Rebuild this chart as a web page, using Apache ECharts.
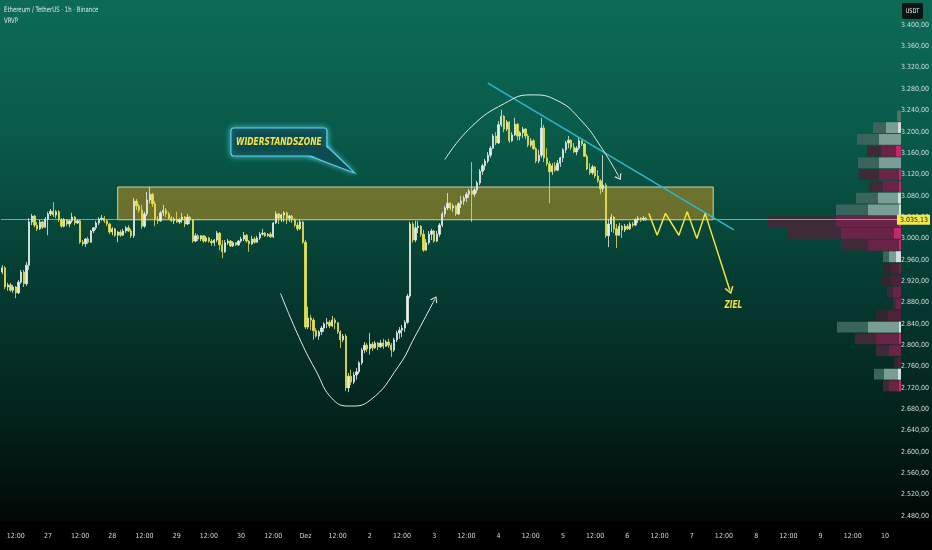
<!DOCTYPE html>
<html><head><meta charset="utf-8">
<script src="https://cdn.jsdelivr.net/npm/echarts@6/dist/echarts.min.js"></script>
<style>html,body{margin:0;padding:0;background:#000;}#c{width:932px;height:550px;}</style>
</head><body><div id="c"></div>
<script>
// ---- axis setup (hours relative to 26 Nov 12:00) ----
const firstHour = -5;
const hourCount = 334;
const monthNames = ['Jan','Feb','Mär','Apr','Mai','Jun','Jul','Aug','Sep','Okt','Nov','Dez'];
const yTicks = [2480,2520,2560,2600,2640,2680,2720,2760,2800,2840,2880,2920,2960,3000,3040,3080,3120,3160,3200,3240,3280,3320,3360,3400];
const yMin = 2468.7, yMax = 3446.8;

// ---- ETH/USDT 1h candles (from 26 Nov 07:00) ----
const opens = [
2937,2945,2909,2913,2903,2909,2898,2918,2937,2915,
2950,3031,3042,3025,3018,3031,3021,3036,3046,3051,
3044,3050,3035,3023,3035,3027,3033,3040,3029,3033,
2993,2990,2999,2993,3014,3020,3029,3036,3038,3033,
3027,3012,3018,3006,3012,3006,3014,3020,3014,3005,
3070,3061,3053,3023,3046,3072,3083,3065,3036,3033,
3048,3053,3046,3038,3033,3036,3031,3035,3040,3027,
3040,3035,2995,3005,2999,3005,2995,3001,2995,2992,
2997,3010,2988,2975,2992,2995,2986,2992,2988,2995,
2999,3006,2995,2990,2999,2993,3001,3008,3010,3005,
3008,3003,3029,3046,3038,3044,3048,3038,3042,3035,
3025,3018,3031,2993,2834,2851,2847,2827,2817,2825,
2832,2840,2843,2836,2847,2842,2825,2810,2817,2720,
2742,2731,2744,2750,2767,2791,2800,2793,2802,2795,
2804,2797,2804,2798,2806,2800,2791,2810,2823,2828,
2832,2843,2892,3027,2997,3020,3023,3008,2978,2992,
3008,3014,2995,3008,3025,3046,3057,3066,3057,3061,
3046,3065,3070,3076,3083,3089,3083,3091,3104,3126,
3136,3145,3156,3169,3192,3179,3213,3229,3205,3218,
3183,3194,3214,3192,3198,3205,3192,3175,3183,3168,
3145,3156,3207,3151,3140,3125,3136,3128,3141,3151,
3166,3179,3184,3171,3162,3169,3183,3177,3154,3130,
3123,3134,3117,3108,3093,3100,3005,3027,3040,3018,
3006,3023,3016,3023,3018,3027,3025,3035,3038,3035,
3038];
const closes = [
2945,2909,2913,2903,2909,2898,2918,2937,2915,2950,
3031,3042,3025,3018,3031,3021,3036,3046,3051,3044,
3050,3035,3023,3035,3027,3033,3040,3029,3033,2993,
2990,2999,2993,3014,3020,3029,3036,3038,3033,3027,
3012,3018,3006,3012,3006,3014,3020,3014,3005,3070,
3061,3053,3023,3046,3072,3083,3065,3036,3033,3048,
3053,3046,3038,3033,3036,3031,3035,3040,3027,3040,
3035,2995,3005,2999,3005,2995,3001,2995,2992,2997,
3010,2988,2975,2992,2995,2986,2992,2988,2995,2999,
3006,2995,2990,2999,2993,3001,3008,3010,3005,3008,
3003,3029,3046,3038,3044,3048,3038,3042,3035,3025,
3018,3031,2993,2834,2851,2847,2827,2817,2825,2832,
2840,2843,2836,2847,2842,2825,2810,2817,2720,2742,
2731,2744,2750,2767,2791,2800,2793,2802,2795,2804,
2797,2804,2798,2806,2800,2791,2810,2823,2828,2832,
2843,2892,3027,2997,3020,3023,3008,2978,2992,3008,
3014,2995,3008,3025,3046,3057,3066,3057,3061,3046,
3065,3070,3076,3083,3089,3083,3091,3104,3126,3136,
3145,3156,3169,3192,3179,3213,3229,3205,3218,3183,
3194,3214,3192,3198,3205,3192,3175,3183,3168,3145,
3156,3207,3151,3140,3125,3136,3128,3141,3151,3166,
3179,3184,3171,3162,3169,3183,3177,3154,3130,3123,
3134,3117,3108,3093,3100,3005,3027,3040,3018,3006,
3023,3016,3023,3018,3027,3025,3035,3038,3035,3038,
3035.13];
const lows = [
2933,2905,2902,2900,2898,2888,2896,2915,2909,2911,
2941,3025,3021,3014,3016,3018,3020,3006,3042,3040,
3038,3031,3020,3021,3023,3021,3029,3025,3027,2990,
2986,2984,2990,2992,3010,3016,3025,3033,3029,3023,
3008,3006,3003,2993,3003,3005,3010,3012,3001,3001,
3053,3048,3018,3020,3042,3066,3059,3023,3027,3031,
3042,3040,3035,3031,3027,3029,3027,3029,3021,3025,
3027,2992,2993,2995,2995,2992,2993,2992,2986,2986,
2993,2978,2963,2973,2988,2984,2984,2986,2986,2992,
2995,2992,2975,2988,2990,2992,2997,3005,3003,3003,
3001,3001,3027,3027,3031,3031,3027,3031,3029,3021,
3014,3016,2990,2830,2830,2828,2810,2814,2810,2819,
2825,2832,2832,2834,2830,2821,2795,2806,2714,2712,
2725,2727,2735,2746,2763,2785,2787,2782,2789,2793,
2791,2795,2793,2797,2795,2778,2787,2806,2812,2815,
2825,2840,2888,2992,2993,3010,3003,2975,2978,2988,
2997,2992,2993,3003,3021,3040,3053,3053,3050,3042,
3044,3057,3063,3068,3076,3031,3078,3085,3100,3119,
3128,3141,3151,3168,3175,3177,3209,3199,3201,3179,
3181,3192,3184,3184,3188,3186,3171,3171,3166,3141,
3141,3151,3143,3136,3066,3119,3125,3126,3134,3143,
3160,3169,3166,3160,3156,3166,3173,3153,3128,3119,
3119,3113,3104,3083,3087,3001,2984,3012,3010,2982,
3005,3001,3012,3016,3016,3021,3023,3029,3031,3033,
3033];
const highs = [
2950,2948,2917,2917,2913,2911,2922,2941,2941,2956,
3038,3046,3044,3031,3035,3033,3040,3050,3055,3068,
3053,3053,3038,3038,3036,3035,3048,3042,3036,3035,
2997,3001,3003,3016,3021,3033,3040,3044,3042,3036,
3029,3021,3020,3014,3016,3018,3023,3025,3018,3076,
3074,3065,3063,3050,3087,3096,3085,3070,3042,3051,
3063,3057,3050,3042,3040,3050,3038,3048,3042,3046,
3042,3036,3010,3008,3006,3006,3005,3003,2999,2999,
3014,3012,2997,2997,2999,2997,2995,2993,2997,3003,
3012,3008,2997,3005,3003,3005,3012,3018,3012,3010,
3012,3031,3051,3048,3046,3051,3050,3044,3044,3038,
3031,3035,3033,2997,2872,2857,2851,2832,2828,2836,
2843,2851,2847,2855,2851,2843,2828,2821,2821,2748,
2754,2750,2757,2770,2795,2806,2804,2823,2806,2808,
2806,2810,2812,2810,2812,2804,2814,2827,2834,2838,
2847,2896,3031,3031,3033,3033,3025,3016,2999,3014,
3018,3016,3014,3029,3050,3061,3085,3068,3065,3063,
3068,3080,3080,3087,3093,3143,3095,3108,3130,3140,
3149,3162,3173,3196,3199,3220,3241,3231,3222,3220,
3199,3226,3216,3201,3209,3207,3196,3188,3186,3171,
3166,3226,3213,3169,3145,3141,3143,3147,3153,3169,
3183,3192,3186,3179,3173,3190,3184,3179,3158,3141,
3138,3136,3128,3111,3156,3104,3036,3046,3042,3027,
3029,3025,3027,3027,3031,3031,3038,3042,3040,3042,
3040];
const lastPrice = 3035.13;

// ---- resistance zone (hours, price) ----
const zoneHours = [38, 260];
const zonePrices = [3035, 3096.4];

// ---- drawn annotations: [hour, price] ----
const cupCurve = [[98.7,2897],[105.5,2816],[111.7,2754],[118.5,2697],[124.8,2686],[132.1,2697],[142.6,2760],[148.8,2816],[156.2,2886]];
const domeCurve = [[160,3148],[169.8,3209],[182.2,3253],[192.1,3269],[202,3258],[210.6,3222],[218.1,3172],[224.9,3115]];
const trendLine = [[176,3291],[267.7,3016]];
const zigzag = [[236,3047],[239.1,3006],[242.2,3047],[247.2,3006],[250.3,3050],[253.9,3000],[257,3047],[266.2,2903]];
const calloutCenter = [98.1, 3180.7];
const calloutTip = [126.3, 3122.6];
const calloutText = 'WIDERSTANDSZONE';
const targetText = 'ZIEL';
const targetAt = [267.5, 2875];

// ---- visible range volume profile ----
const profileRow = 22;
const profileBottoms = [3218.7,3196.7,3174.7,3152.7,3130.7,3108.7,3086.7,3064.7,3042.7,3020.7,2998.7,2976.7,2954.7,2932.7,2910.7,2888.7,2866.7,2844.7,2822.7,2800.7,2778.7,2756.7,2734.7,2712.7];
const profileTotal = [4,28,44,34,43,42,32,45,65,133,114,60,18,17,20,14,8,25,64,46,25,7,27,18];
const profileInner = [4,15,22,20,22,22,18,23,33,65,60,33,12,10,10,8,5,13,33,25,12,3,17,12];
const profileEdge  = [0,3,0,5,0,2,2,3,2,2,7,2,5,2,0,0,0,0,2,2,0,0,3,2];
const profileSide  = ['up','up','up','down','up','down','down','up','up','down','down','down','up','down','down','down','down','down','up','down','down','down','up','down'];
const profileValueArea = [0,1,1,1,1,1,1,1,1,1,1,1,1,0,0,1,1,0,1,1,1,0,1,1];

const FONT = '"DejaVu Sans Condensed","Liberation Sans Narrow",sans-serif';

const categories = [];
for (let i = 0; i < hourCount; i++) {
  const d = new Date(Date.UTC(2025, 10, 26, 12) + (firstHour + i) * 3600000);
  categories.push(d.getUTCFullYear() + '-' + (d.getUTCMonth() + 1) + '-' + d.getUTCDate() + ' ' + d.getUTCHours());
}
function parseCat(v) {
  const [ymd, hh] = v.split(' ');
  const p = ymd.split('-');
  return {month: +p[1] - 1, day: +p[2], hour: +hh};
}
function de(v) {
  const s = Math.round(v).toString();
  return s.replace(/\B(?=(\d{3})+(?!\d))/g, '.') + ',00';
}
const candleData = opens.map((o, i) => [o, closes[i], lows[i], highs[i]]);

const UP = '#e6eeea', DOWN = '#e8e24b';
const colors = {
  up:   {outer: ['#2d544c', '#3a655d'], inner: ['#4a736a', '#7a9d94'], edge: ['#86a8a0', '#d0dfda']},
  down: {outer: ['#33272f', '#3f2b38'], inner: ['#4b2237', '#6a2446'], edge: ['#6a2444', '#c5286a']}
};

const chart = echarts.init(document.getElementById('c'), null, {width: 932, height: 550});
const option = {
  animation: false,
  backgroundColor: {type: 'linear', x: 0, y: 0, x2: 0, y2: 1, colorStops: [
    {offset: 0, color: '#0c6b56'}, {offset: 0.25, color: '#095a48'}, {offset: 0.5, color: '#063d33'},
    {offset: 0.75, color: '#03231d'}, {offset: 0.946, color: '#010806'}, {offset: 0.95, color: '#000'}, {offset: 1, color: '#000'}]},
  grid: [
    {left: 1, right: 31, top: 0, bottom: 28},
    {left: 761, right: 31, top: 0, bottom: 28}
  ],
  xAxis: [
    {type: 'category', gridIndex: 0, data: categories, boundaryGap: true,
     axisLine: {show: false}, axisTick: {show: false}, splitLine: {show: false},
     axisLabel: {color: '#d6d6d6', fontSize: 7, fontFamily: FONT, margin: 11,
       interval: (idx, v) => parseCat(v).hour % 12 === 0,
       formatter: v => { const c = parseCat(v); if (c.hour === 12) return '12:00'; return c.day === 1 ? monthNames[c.month] : String(c.day); }}},
    {type: 'value', gridIndex: 0, min: firstHour - 0.5, max: firstHour + hourCount - 0.5, show: false},
    {type: 'value', gridIndex: 1, min: 0, max: 140, inverse: true, show: false}
  ],
  yAxis: [
    {type: 'value', gridIndex: 0, position: 'right', min: yMin, max: yMax, scale: true,
     axisLine: {show: false}, axisTick: {show: false}, splitLine: {show: false},
     axisLabel: {customValues: yTicks, formatter: v => de(v), color: '#d6dedb', fontSize: 7, fontFamily: FONT, margin: 4}},
    {type: 'value', gridIndex: 1, min: yMin, max: yMax, show: false}
  ],
  series: [
    {type: 'candlestick', xAxisIndex: 0, yAxisIndex: 0, data: candleData, barWidth: 1.8, z: 3,
     itemStyle: {color: UP, color0: DOWN, borderColor: UP, borderColor0: DOWN, borderWidth: 0.8},
     emphasis: {disabled: true}},
    {type: 'line', xAxisIndex: 1, yAxisIndex: 0, data: trendLine, symbol: 'none', z: 6,
     lineStyle: {color: '#2bb6d4', width: 1.6},
     markArea: {silent: true, z: 2, itemStyle: {color: 'rgba(210,150,30,0.5)', borderColor: 'rgba(235,232,175,0.85)', borderWidth: 1},
       data: [[{xAxis: zoneHours[0], yAxis: zonePrices[1]}, {xAxis: zoneHours[1], yAxis: zonePrices[0]}]]},
     markLine: {silent: true, symbol: 'none', z: 2,
       lineStyle: {color: 'rgba(195,182,70,0.8)', width: 1, type: 'solid'},
       label: {show: true, position: 'end', distance: 0, formatter: '3.035,13', color: '#111', backgroundColor: '#f3e94c',
         fontSize: 7, fontFamily: FONT, padding: [2, 2, 1, 3]},
       data: [{yAxis: lastPrice}]}},
    {type: 'line', xAxisIndex: 1, yAxisIndex: 0, smooth: 0.5, symbol: 'none', z: 6,
     lineStyle: {color: '#e4ebe8', width: 1},
     data: cupCurve.map((p, i) => i === cupCurve.length - 1 ? {value: p, symbol: 'path://M0,8 L5,0 L10,8', symbolSize: [7, 5], symbolRotate: -28, itemStyle: {color: 'rgba(0,0,0,0)', borderColor: '#e4ebe8', borderWidth: 1}} : p)},
    {type: 'line', xAxisIndex: 1, yAxisIndex: 0, smooth: 0.5, symbol: 'none', z: 6,
     lineStyle: {color: '#e4ebe8', width: 1},
     data: domeCurve.map((p, i) => i === domeCurve.length - 1 ? {value: p, symbol: 'path://M0,8 L5,0 L10,8', symbolSize: [7, 5], symbolRotate: -149, itemStyle: {color: 'rgba(0,0,0,0)', borderColor: '#e4ebe8', borderWidth: 1}} : p)},
    {type: 'line', xAxisIndex: 1, yAxisIndex: 0, symbol: 'none', z: 6,
     lineStyle: {color: '#f2e23c', width: 1.5},
     data: zigzag.map((p, i) => i === zigzag.length - 1 ? {value: p, symbol: 'path://M0,8 L5,0 L10,8', symbolSize: [8, 6], symbolRotate: -162, itemStyle: {color: 'rgba(0,0,0,0)', borderColor: '#f2e23c', borderWidth: 1.4}} : p)},
    {type: 'custom', xAxisIndex: 2, yAxisIndex: 1, z: 1, silent: true,
     data: profileBottoms.map((b, i) => [profileTotal[i], b, profileInner[i], profileEdge[i], i]),
     renderItem: (params, api) => {
       const b = api.value(1), i = api.value(4);
       const pal = colors[profileSide[i]], va = profileValueArea[i];
       const yB = api.coord([0, b])[1], yT = api.coord([0, b + profileRow])[1];
       const xR = api.coord([0, b])[0];
       const h = yB - yT - 1;
       const seg = (val, col) => { const x = api.coord([val, b])[0]; return {type: 'rect', shape: {x: x, y: yT + 0.5, width: xR - x, height: h}, style: {fill: col}}; };
       const kids = [seg(api.value(0), pal.outer[va]), seg(api.value(2), pal.inner[va])];
       if (api.value(3) > 0) kids.push(seg(api.value(3), pal.edge[va]));
       return {type: 'group', children: kids};
     }}
  ]
};
chart.setOption(option);

const px = p => chart.convertToPixel({seriesIndex: 1}, p);
const c = px(calloutCenter), t = px(calloutTip), z = px(targetAt);
const boxFill = '#0d4b4f', boxStroke = '#5bd2ea';
const tail = [[c[0] + 28, c[1] + 13], t, [c[0] + 47, c[1] + 3]];
chart.setOption({graphic: [
  {type: 'text', x: 4, y: 6, scaleX: 0.8, z: 100, style: {text: 'Ethereum / TetherUS · 1h · Binance', fill: '#dde5e2', font: '7.5px ' + FONT}},
  {type: 'text', x: 4, y: 17, scaleX: 0.8, z: 100, style: {text: 'VRVP', fill: '#dde5e2', font: '7.5px ' + FONT}},
  {type: 'rect', shape: {x: 902, y: 3, width: 21, height: 16, r: 2}, z: 100, style: {fill: '#0b1613'}},
  {type: 'text', x: 912.5, y: 11.5, scaleX: 0.85, z: 101, style: {text: 'USDT', fill: '#f2f2f2', font: '6.5px ' + FONT, align: 'center', verticalAlign: 'middle'}},
  {type: 'polygon', shape: {points: tail}, z: 100, style: {fill: boxFill, stroke: boxStroke, lineWidth: 1.2, shadowBlur: 5, shadowColor: 'rgba(90,215,240,0.7)'}},
  {type: 'rect', shape: {x: c[0] - 48, y: c[1] - 14, width: 96, height: 28, r: 3}, z: 101, style: {fill: boxFill, stroke: boxStroke, lineWidth: 1.2, shadowBlur: 6, shadowColor: 'rgba(90,215,240,0.8)'}},
  {type: 'polygon', shape: {points: [[c[0] + 29, c[1] + 12], [t[0] - 2, t[1] - 1.5], [c[0] + 46, c[1] + 4]]}, z: 102, style: {fill: boxFill}},
  {type: 'text', x: c[0], y: c[1], scaleX: 0.84, z: 103, style: {text: calloutText, fill: '#f3e44b', font: 'italic bold 10px ' + FONT, align: 'center', verticalAlign: 'middle'}},
  {type: 'text', x: z[0], y: z[1], scaleX: 0.82, z: 103, style: {text: targetText, fill: '#f2e13a', font: 'italic bold 10px ' + FONT, align: 'center', verticalAlign: 'middle'}}
]});
</script></body></html>
